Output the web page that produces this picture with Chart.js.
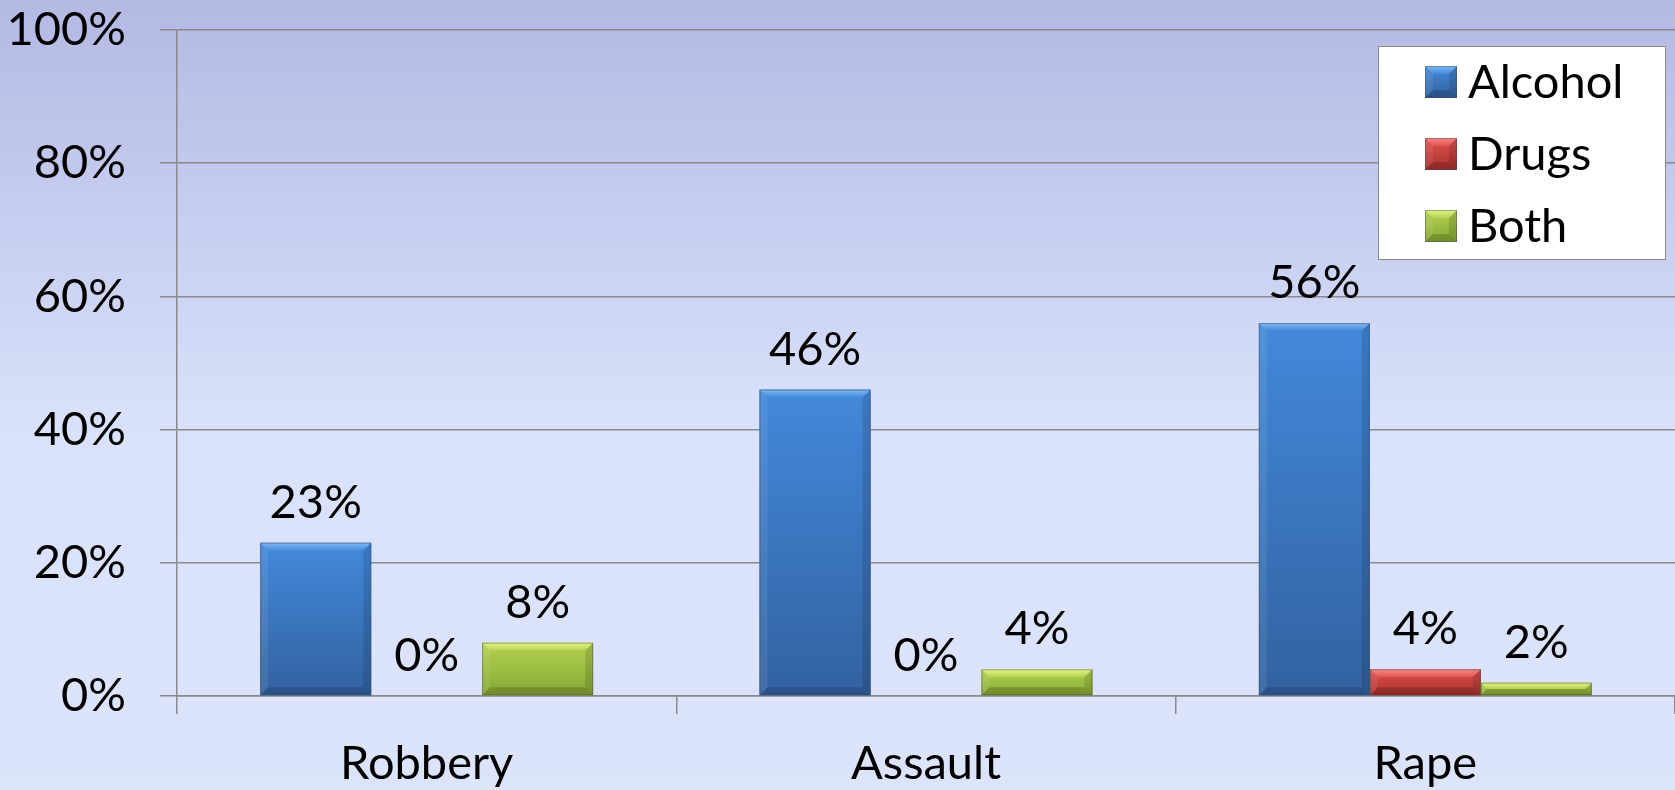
<!DOCTYPE html>
<html>
<head>
<meta charset="utf-8">
<script src="https://cdn.jsdelivr.net/npm/chart.js@4/dist/chart.umd.min.js"></script>
<style>
  html, body { margin: 0; padding: 0; background: #dbe3fb; }
  #wrap { width: 1675px; height: 790px; position: relative; }
</style>
</head>
<body>
<div id="wrap"><canvas id="chart" width="1675" height="790"></canvas></div>
<script>
// Share of offenders under the influence, by offence type
const categories = ['Robbery', 'Assault', 'Rape'];
const seriesNames = ['Alcohol', 'Drugs', 'Both'];
const alcohol = [23, 46, 56];
const drugs = [0, 0, 4];
const both = [8, 4, 2];
const yTicks = [0, 20, 40, 60, 80, 100];

// Bar palettes: body top, body bottom, top bevel highlight, flat swatch
const palettes = [
  { top: '#4389db', bottom: '#3262a0', hi: '#7fb8f2', swatch: '#3d7ccc' },
  { top: '#e0524e', bottom: '#a8302d', hi: '#f58a86', swatch: '#c9413d' },
  { top: '#b2d24f', bottom: '#86a834', hi: '#e4f58c', swatch: '#9bbd45' }
];

const FONT = 'Lato, "Open Sans", sans-serif';

const backgroundPlugin = {
  id: 'pageBackground',
  beforeDraw(chart) {
    const { ctx, width, height } = chart;
    const g = ctx.createLinearGradient(0, 0, 0, height);
    g.addColorStop(0, '#b3b9e3');
    g.addColorStop(0.55, '#dae2fb');
    g.addColorStop(1, '#dce4fc');
    ctx.save();
    ctx.fillStyle = g;
    ctx.fillRect(0, 0, width, height);
    ctx.restore();
  }
};

function bevelRect(ctx, x0, y0, x1, y1, pal) {
  const h = y1 - y0;
  if (h <= 0) return;
  const g = ctx.createLinearGradient(0, y0, 0, y1);
  g.addColorStop(0, pal.top);
  g.addColorStop(1, pal.bottom);
  ctx.fillStyle = g;
  ctx.fillRect(x0, y0, x1 - x0, h);
  const b = Math.min(8, h / 2, (x1 - x0) / 2);
  const poly = (pts, fill) => {
    ctx.beginPath();
    ctx.moveTo(pts[0][0], pts[0][1]);
    for (let i = 1; i < pts.length; i++) ctx.lineTo(pts[i][0], pts[i][1]);
    ctx.closePath();
    ctx.fillStyle = fill;
    ctx.fill();
  };
  // top highlight
  const tg = ctx.createLinearGradient(0, y0, 0, y0 + b);
  tg.addColorStop(0, pal.hi);
  tg.addColorStop(1, pal.top);
  poly([[x0, y0], [x1, y0], [x1 - b, y0 + b], [x0 + b, y0 + b]], tg);
  // left side
  poly([[x0, y0], [x0 + b, y0 + b], [x0 + b, y1 - b], [x0, y1]], 'rgba(255,255,255,0.08)');
  // right side
  poly([[x1, y0], [x1, y1], [x1 - b, y1 - b], [x1 - b, y0 + b]], 'rgba(0,0,0,0.12)');
  // bottom
  poly([[x0, y1], [x1, y1], [x1 - b, y1 - b], [x0 + b, y1 - b]], 'rgba(0,0,0,0.16)');
  ctx.strokeStyle = 'rgba(70,70,80,0.45)';
  ctx.lineWidth = 1;
  ctx.strokeRect(x0 + 0.5, y0 + 0.5, x1 - x0 - 1, h - 1);
}

const barStylePlugin = {
  id: 'bevelBars',
  afterDatasetsDraw(chart) {
    const ctx = chart.ctx;
    ctx.save();
    chart.data.datasets.forEach((ds, di) => {
      const meta = chart.getDatasetMeta(di);
      meta.data.forEach((bar) => {
        const x0 = bar.x - bar.width / 2;
        const x1 = bar.x + bar.width / 2;
        const y0 = Math.min(bar.y, bar.base);
        const y1 = Math.max(bar.y, bar.base);
        bevelRect(ctx, x0, y0, x1, y1, palettes[di]);
      });
    });
    ctx.restore();
  }
};

const valueLabelPlugin = {
  id: 'valueLabels',
  afterDatasetsDraw(chart) {
    const ctx = chart.ctx;
    ctx.save();
    ctx.font = '47px ' + FONT;
    ctx.fillStyle = '#000';
    ctx.textAlign = 'center';
    ctx.textBaseline = 'alphabetic';
    chart.data.datasets.forEach((ds, di) => {
      const meta = chart.getDatasetMeta(di);
      meta.data.forEach((bar, i) => {
        ctx.fillText(ds.data[i] + '%', bar.x, bar.y - 25);
      });
    });
    ctx.restore();
  }
};

const boxLegendPlugin = {
  id: 'boxLegend',
  afterDraw(chart) {
    const ctx = chart.ctx;
    const area = chart.chartArea;
    const w = 288, h = 214;
    const left = area.right - 9 - w;
    const top = area.top + 16;
    ctx.save();
    ctx.fillStyle = '#ffffff';
    ctx.fillRect(left, top, w, h);
    ctx.strokeStyle = '#8a8a8a';
    ctx.lineWidth = 1;
    ctx.strokeRect(left + 0.5, top + 0.5, w - 1, h - 1);
    ctx.font = '47px ' + FONT;
    ctx.textBaseline = 'middle';
    ctx.textAlign = 'left';
    chart.data.datasets.forEach((ds, di) => {
      const cy = top + 36 + di * 72;
      const sx = left + 47;
      const s = 32;
      bevelRect(ctx, sx, cy - s / 2, sx + s, cy + s / 2, palettes[di]);
      ctx.fillStyle = '#000';
      ctx.fillText(ds.label, sx + s + 11, cy + 1);
    });
    ctx.restore();
  }
};

const data = {
  labels: categories,
  datasets: [alcohol, drugs, both].map((vals, i) => ({
    label: seriesNames[i],
    data: vals,
    backgroundColor: palettes[i].swatch,
    borderWidth: 0,
    categoryPercentage: 2 / 3,
    barPercentage: 1
  }))
};

new Chart(document.getElementById('chart'), {
  type: 'bar',
  data,
  plugins: [backgroundPlugin, barStylePlugin, valueLabelPlugin, boxLegendPlugin],
  options: {
    responsive: false,
    animation: false,
    layout: { padding: { top: 30, right: 0, bottom: 0, left: 0 } },
    plugins: {
      legend: { display: false },
      tooltip: { enabled: false }
    },
    scales: {
      x: {
        grid: {
          display: true,
          drawOnChartArea: false,
          offset: true,
          color: '#8a8a8a',
          lineWidth: 1.5,
          tickLength: 18
        },
        border: { color: '#8a8a8a', width: 1.5 },
        ticks: {
          color: '#000',
          font: { family: FONT, size: 47 },
          padding: 22
        },
        afterFit(scale) {
          scale.height = 94;
          scale.paddingLeft = 0;
          scale.paddingRight = 0;
        }
      },
      y: {
        min: 0,
        max: 100,
        afterBuildTicks(scale) { scale.ticks = yTicks.map(v => ({ value: v })); },
        grid: {
          color: '#8a8a8a',
          lineWidth: 1.5,
          tickLength: 17
        },
        border: { color: '#8a8a8a', width: 1.5 },
        ticks: {
          color: '#000',
          font: { family: FONT, size: 47 },
          padding: 34,
          callback: (v) => v + '%'
        },
        afterFit(scale) {
          scale.width = 177;
          scale.paddingTop = 0;
          scale.paddingBottom = 0;
        }
      }
    }
  }
});
</script>
</body>
</html>
